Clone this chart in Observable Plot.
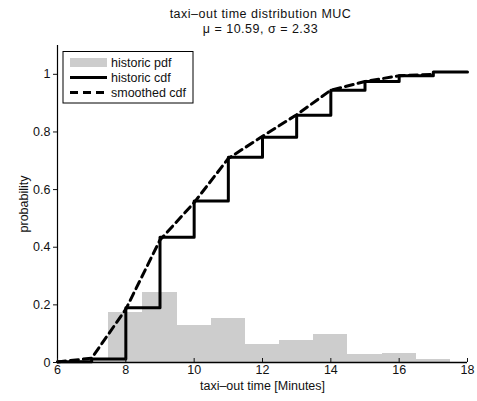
<!DOCTYPE html>
<html>
<head>
<meta charset="utf-8">
<script src="https://cdn.jsdelivr.net/npm/d3@7"></script>
<script src="https://cdn.jsdelivr.net/npm/@observablehq/plot@0.6"></script>
<style>
  body { margin: 0; background: #fff; font-family: "Liberation Sans", Arial, Helvetica, sans-serif; }
  #wrap { position: relative; width: 477px; height: 401px; }
  #titles { position: absolute; left: 0; top: 0; width: 477px; height: 40px; text-align: center; font-size: 12.5px; letter-spacing: 0.5px; line-height: 15px; padding-top: 7px; box-sizing: border-box; padding-left: 44px; color: #111; }
  #chart { position: absolute; left: 0; top: 40px; }
</style>
</head>
<body>
<div id="wrap">
  <div id="titles">
    <div>taxi–out time distribution MUC</div>
    <div>μ = 10.59, σ = 2.33</div>
  </div>
  <div id="chart"></div>
</div>
<script>
// Histogram (pdf): bins centred on whole minutes
const pdfCenters = [7, 8, 9, 10, 11, 12, 13, 14, 15, 16, 17];
const pdfValues  = [0.008, 0.175, 0.242, 0.128, 0.151, 0.062, 0.076, 0.096, 0.029, 0.030, 0.012];

// Historic cdf (step)
const cdfX      = [6, 7, 8, 9, 10, 11, 12, 13, 14, 15, 16, 17, 18];
const cdfValues = [0.003, 0.012, 0.19, 0.435, 0.56, 0.712, 0.782, 0.858, 0.945, 0.975, 0.995, 1.008, 1.008];

// Smoothed cdf (dashed)
const smoothX      = [6, 7, 8, 9, 10, 11, 12, 13, 14, 15, 16, 17];
const smoothValues = [0.002, 0.015, 0.185, 0.425, 0.555, 0.708, 0.785, 0.86, 0.945, 0.975, 0.995, 1.0];

const xTicks = [6, 8, 10, 12, 14, 16, 18];
const yTicks = [0, 0.2, 0.4, 0.6, 0.8, 1];

const legendItems = ["historic pdf", "historic cdf", "smoothed cdf"];

const pdf = pdfCenters.map((c, i) => ({x1: c - 0.5, x2: c + 0.5, y: pdfValues[i]}));
const cdf = cdfX.map((x, i) => ({x, y: cdfValues[i]}));
const smooth = smoothX.map((x, i) => ({x, y: smoothValues[i]}));

const FONT = '"Liberation Sans", Arial, Helvetica, sans-serif';

const plot = Plot.plot({
  width: 477,
  height: 361,
  marginLeft: 57,
  marginRight: 10,
  marginTop: 5,
  marginBottom: 39,
  style: {fontFamily: FONT, fontSize: "12.5px", color: "#111", background: "#fff"},
  x: {domain: [6, 18]},
  y: {domain: [0, 1.1]},
  marks: [
    Plot.rectY(pdf, {x1: "x1", x2: "x2", y: "y", fill: "#cdcdcd", inset: 0, shapeRendering: "crispEdges"}),
    Plot.line(smooth, {x: "x", y: "y", stroke: "#000", strokeWidth: 3, strokeDasharray: "8,5"}),
    Plot.line(cdf, {x: "x", y: "y", stroke: "#000", strokeWidth: 3, curve: "step-after"}),
    Plot.ruleY([0], {stroke: "#000", strokeWidth: 1.5}),
    Plot.ruleX([6], {stroke: "#000", strokeWidth: 1.2}),
    Plot.axisX({ticks: xTicks, tickSize: 0, tickPadding: 3, label: "taxi–out time [Minutes]", labelAnchor: "center", labelOffset: 27, labelArrow: "none", fontSize: 12.5}),
    Plot.axisX({ticks: xTicks, tickSize: -4, text: null, label: null}),
    Plot.axisY({ticks: yTicks, tickSize: 4, tickPadding: 3, tickFormat: d => String(d), label: "probability", labelAnchor: "center", labelOffset: 38, labelArrow: "none", fontSize: 12.5})
  ]
});

document.getElementById("chart").appendChild(plot);

// Legend box inside the plot area
const svg = d3.select(plot);
const g = svg.append("g").attr("font-family", FONT).attr("font-size", 12.5).attr("text-anchor", "start");
g.append("rect").attr("x", 63).attr("y", 11.5).attr("width", 130).attr("height", 51.5)
  .attr("fill", "#fff").attr("stroke", "#000").attr("stroke-width", 1);
const rowY = [22.5, 37.5, 52.5];
g.append("rect").attr("x", 70).attr("y", rowY[0] - 4.5).attr("width", 37).attr("height", 9).attr("fill", "#cdcdcd");
g.append("line").attr("x1", 70).attr("x2", 107).attr("y1", rowY[1]).attr("y2", rowY[1]).attr("stroke", "#000").attr("stroke-width", 3);
g.append("line").attr("x1", 70).attr("x2", 107).attr("y1", rowY[2]).attr("y2", rowY[2]).attr("stroke", "#000").attr("stroke-width", 3).attr("stroke-dasharray", "8,5");
legendItems.forEach((t, i) => {
  g.append("text").attr("x", 111).attr("y", rowY[i]).attr("dy", "0.35em").attr("fill", "#111").text(t);
});
</script>
</body>
</html>
